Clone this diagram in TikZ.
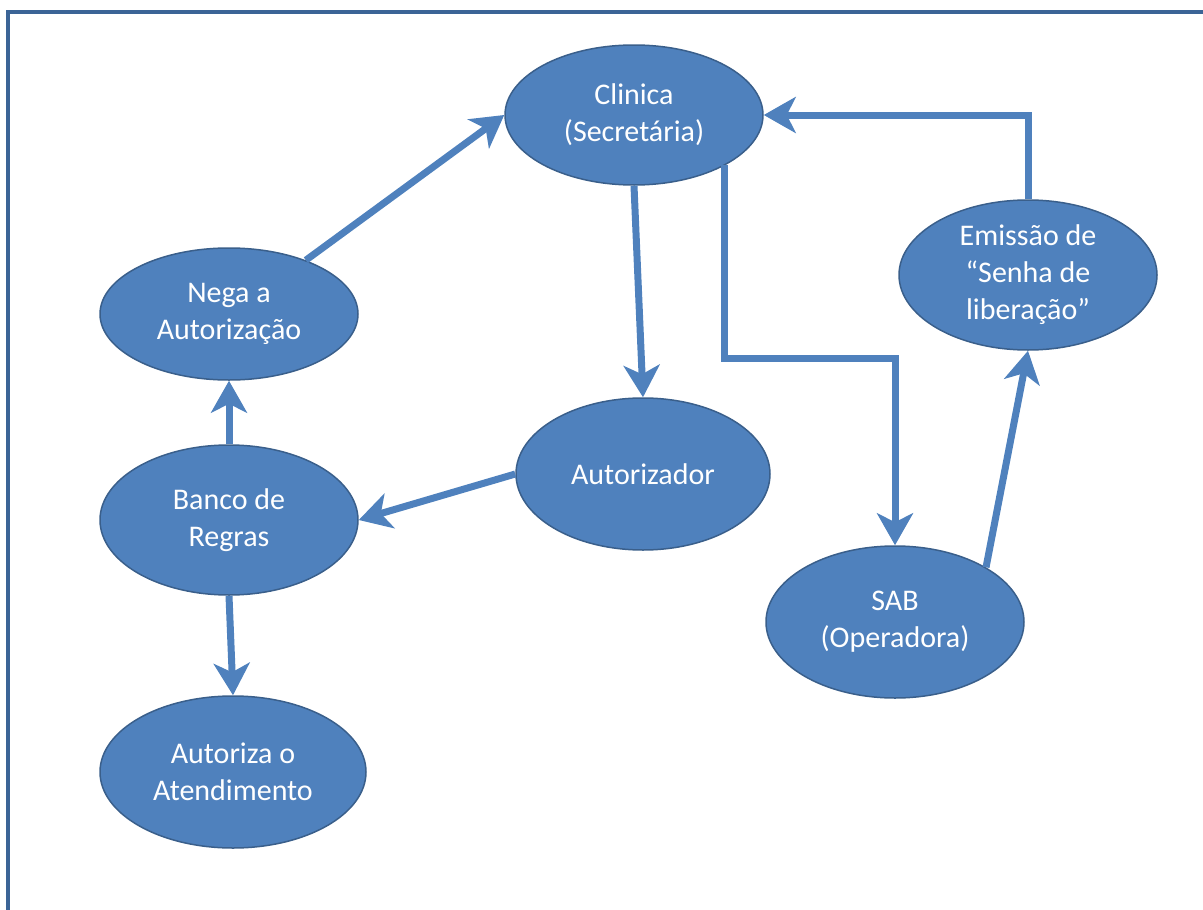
\documentclass[tikz,border=0pt]{standalone}
\usepackage{fontspec}
\setmainfont{Carlito}
\usetikzlibrary{shapes.geometric,arrows.meta}
\definecolor{ellfill}{HTML}{4F81BD}
\definecolor{ellline}{HTML}{3A5F8B}
\definecolor{framec}{HTML}{3B6496}
\tikzset{
  ell/.style={ellipse, draw=ellline, line width=1.5pt, fill=ellfill, text=white,
    inner sep=0pt, align=center, font=\fontsize{30}{37}\selectfont},
  arr/.style={draw=ellfill, line width=7pt,
    -{Stealth[length=32pt, width=36pt, inset=9pt]}},
}
\begin{document}
\begin{tikzpicture}[x=1pt,y=1pt]
\useasboundingbox (0,0) rectangle (1203,-910);
\draw[framec, line width=4.5pt] (8,-912) -- (8,-12) -- (1205,-12);

\node[ell, minimum width=258pt, minimum height=140pt] (clin) at (634,-115) {Clinica\\(Secretária)};
\node[ell, minimum width=258pt, minimum height=132pt] (nega) at (229,-314) {Nega a\\Autorização};
\node[ell, minimum width=258pt, minimum height=150pt] (banco) at (229,-520) {Banco de\\Regras};
\node[ell, minimum width=266pt, minimum height=152pt] (autoriza) at (233,-772) {Autoriza o\\Atendimento};
\node[ell, minimum width=254pt, minimum height=152pt] (autz) at (643,-474) {Autorizador};
\node[ell, minimum width=258pt, minimum height=150pt] (emis) at (1028,-275) {Emissão de\\“Senha de\\liberação”};
\node[ell, minimum width=258pt, minimum height=152pt] (sab) at (895,-622) {SAB\\(Operadora)};

\draw[arr] (nega.35) -- (clin.west);
\draw[arr] (clin.south) -- (autz.north);
\draw[arr] (clin.-29) -- ++(0,-193) -| (sab.north);
\draw[arr] (sab.31) -- (emis.south);
\draw[arr] (emis.north) |- (clin.east);
\draw[arr] (autz.west) -- (banco.east);
\draw[arr] (banco.north) -- (nega.south);
\draw[arr] (banco.south) -- (autoriza.north);
\end{tikzpicture}
\end{document}
